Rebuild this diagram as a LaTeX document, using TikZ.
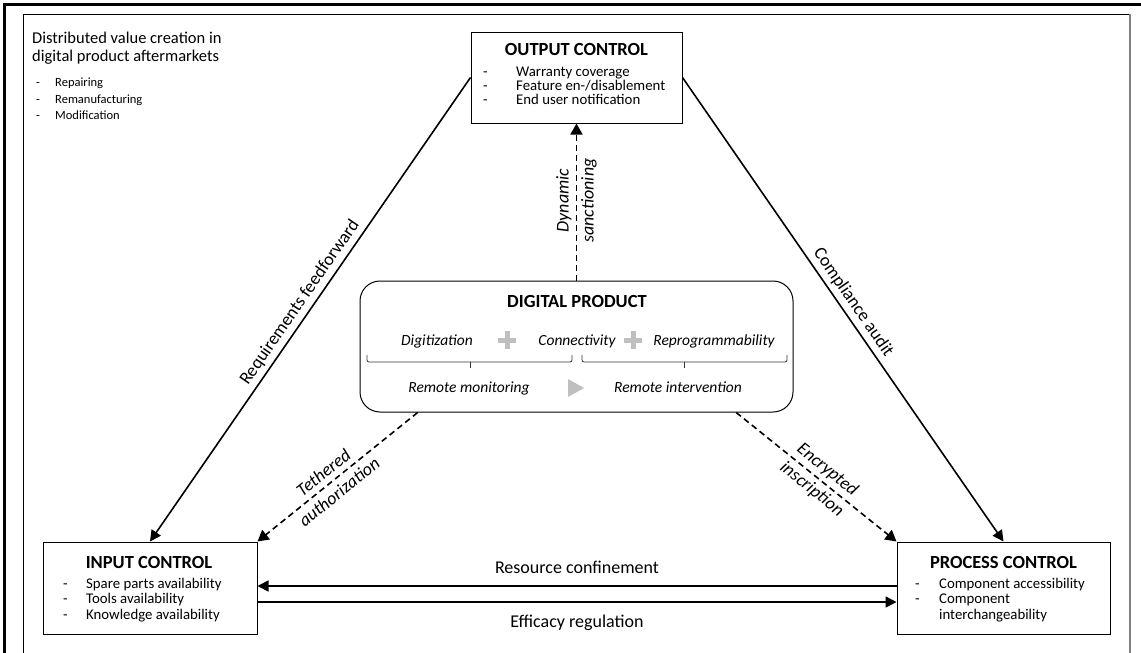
\documentclass[tikz,border=0pt]{standalone}
\usepackage{fontspec}
\setmainfont{Carlito}
\usetikzlibrary{positioning,arrows.meta,calc}

\newcommand{\dashitem}[2][23pt]{\makebox[#1][l]{-}#2}
\newcommand{\dashcont}[2][23pt]{\hspace*{#1}#2}

\begin{document}
\begin{tikzpicture}[x=1pt,y=-1pt]
		% styles
		\tikzset{
			ctrlbox/.style={draw, rectangle, line width=1pt, inner sep=0pt},
			prodbox/.style={draw, rectangle, rounded corners=20pt, line width=1pt, inner sep=0pt, minimum width=433pt, minimum height=131pt},
			boxtitle/.style={font=\fontsize{18.5}{20}\selectfont\bfseries, inner sep=0pt, anchor=base},
			itemlist/.style={font=\fontsize{14.8}{15.3}\selectfont, align=left, inner sep=0pt, anchor=north west},
			rowtext/.style={font=\fontsize{15.5}{17}\selectfont\itshape, inner sep=0pt, anchor=base},
			arr/.style={line width=1.6pt, -{Triangle[length=11pt,width=11pt]}},
			dasharr/.style={line width=1.6pt, dash pattern=on 6pt off 4pt, -{Triangle[length=11pt,width=12pt]}},
			edgelabel/.style={font=\fontsize{18}{20}\selectfont, inner sep=3pt},
			twolabel/.style={font=\fontsize{18}{25}\selectfont\itshape, align=center, inner sep=0pt, sloped},
			plussign/.style={line width=5pt, draw=black!25},
			bracket/.style={line width=0.8pt, draw=black!80, rounded corners=2pt}
		}
		\useasboundingbox (0,0) rectangle (1141,653);

		% frame
		\draw[line width=3pt] (4.5,653) -- (4.5,4.5) -- (1141,4.5);
		\draw[line width=1pt] (23,653) -- (23,14) -- (1130,14);
		\draw[line width=2pt, black!50] (1130,14) -- (1130,653);

		% aftermarket note
		\node[font=\fontsize{16.5}{18}\selectfont, align=left, anchor=north west, inner sep=0pt] (valuetitle) at (32,31.5) {Distributed value creation in\\digital product aftermarkets};
		\node[font=\fontsize{12.5}{16.2}\selectfont, align=left, anchor=north west, inner sep=0pt] (valuelist) at (36,78) {\dashitem[19pt]{Repairing}\\\dashitem[19pt]{Remanufacturing}\\\dashitem[19pt]{Modification}};

		% control boxes
		\node[ctrlbox, minimum width=211pt, minimum height=91pt] (output) at (576.5,77.5) {};
		\node[boxtitle] (outtitle) at (576.5,55) {OUTPUT CONTROL};
		\node[itemlist, font=\fontsize{14.8}{14}\selectfont] (outitems) at (483,66.5) {\dashitem[33pt]{Warranty coverage}\\\dashitem[33pt]{Feature en-/disablement}\\\dashitem[33pt]{End user notification}};

		\node[ctrlbox, minimum width=214pt, minimum height=92pt] (input) at (150,588) {};
		\node[boxtitle] (intitle) at (149,568) {INPUT CONTROL};
		\node[itemlist] (initems) at (63,578) {\dashitem{Spare parts availability}\\\dashitem{Tools availability}\\\dashitem{Knowledge availability}};

		\node[ctrlbox, minimum width=213pt, minimum height=92pt] (process) at (1003.5,588) {};
		\node[boxtitle] (proctitle) at (1003.5,568) {PROCESS CONTROL};
		\node[itemlist] (procitems) at (915,578) {\dashitem[24pt]{Component accessibility}\\\dashitem[24pt]{Component}\\\dashcont[24pt]{interchangeability}};

		% digital product
		\node[prodbox] (dp) at (576.5,346.5) {};
		\node[boxtitle] (dptitle) at (577,307) {DIGITAL PRODUCT};
		\node[rowtext] (digit) at (437,345) {Digitization};
		\node[rowtext] (connect) at (577,345) {Connectivity};
		\node[rowtext] (reprog) at (714,345) {Reprogrammability};
		\node[rowtext] (monitor) at (469,392) {Remote monitoring};
		\node[rowtext] (intervene) at (678,392) {Remote intervention};
		\draw[plussign] (498,340) -- (516,340) (507,331) -- (507,349);
		\draw[plussign] (624,340) -- (642,340) (633,331) -- (633,349);
		\fill[black!25] (568,379) -- (584,388) -- (568,397) -- cycle;
		\draw[bracket] (367,355) -- (367,362) -- (572,362) -- (572,355);
		\draw[bracket] (470,362) -- (470,368);
		\draw[bracket] (582,355) -- (582,362) -- (787,362) -- (787,355);
		\draw[bracket] (684,362) -- (684,368);

		% connections
		\draw[dasharr] (dp.north) -- (output.south) node[twolabel, pos=0.51] {Dynamic\\sanctioning};
		\draw[arr] (output.west) -- (input.north) node[edgelabel, sloped, above=1pt, pos=0.5] {Requirements feedforward};
		\draw[arr] (output.east) -- (process.north) node[edgelabel, sloped, above=1pt, pos=0.5] {Compliance audit};

		\coordinate (tethstart) at ($(dp.south west)!0.134!(dp.south east)$);
		\coordinate (cryptstart) at ($(dp.south west)!0.868!(dp.south east)$);
		\draw[dasharr] (tethstart) -- (input.north east) node[twolabel, pos=0.54] {Tethered\\authorization};
		\draw[dasharr] (cryptstart) -- (process.north west) node[twolabel, pos=0.52] {Encrypted\\inscription};

		\draw[arr] ([yshift=2pt]process.west) -- ([yshift=2pt]input.east) node[edgelabel, above=9pt, midway] {Resource confinement};
		\draw[arr] ([yshift=-14pt]input.east) -- ([yshift=-14pt]process.west) node[edgelabel, below=9pt, midway] {Efficacy regulation};

\end{tikzpicture}
\end{document}
